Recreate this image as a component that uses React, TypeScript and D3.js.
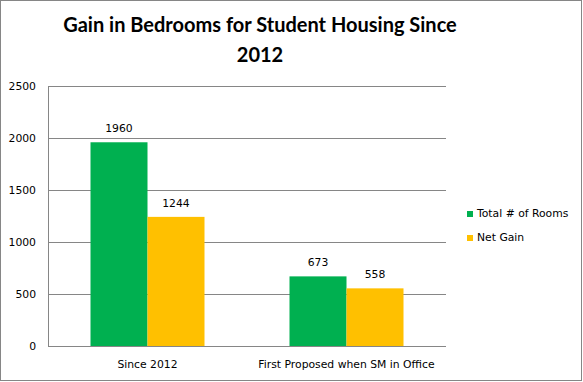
import React from "react";
import * as d3 from "d3";

const categories = ["Since 2012", "First Proposed when SM in Office"];
const seriesNames = ["Total # of Rooms", "Net Gain"];
const totalRooms = [1960, 673];
const netGain = [1244, 558];
const yTicks = [0, 500, 1000, 1500, 2000, 2500];
const colors = ["#00B050", "#FFC000"];

export default function App() {
  const W = 583, H = 382;
  const left = 48, right = 446, top = 86, bottom = 346.5;
  const x0 = d3.scaleBand<string>().domain(categories).range([left, right]);
  const y = d3.scaleLinear().domain([0, 2500]).range([bottom, top]);
  const series = [totalRooms, netGain];
  const lbl = "'DejaVu Sans', Verdana, sans-serif";
  const fs = 10.8;
  const groupW = x0.bandwidth() * (114 / 199);
  const barW = groupW / 2;
  return (
    <svg width={W} height={H} style={{ position: "absolute", left: 0, top: 0 }}>
      <rect x={0.5} y={0.5} width={581} height={380} fill="#fff" stroke="#868686" />
      <text x={260} y={32} textAnchor="middle" fontFamily="Lato, sans-serif" fontWeight="bold" fontSize={20} fill="#000">
        Gain in Bedrooms for Student Housing Since
      </text>
      <text x={260} y={62} textAnchor="middle" fontFamily="Lato, sans-serif" fontWeight="bold" fontSize={20} fill="#000">
        2012
      </text>
      {yTicks.map((t) => (
        <g key={t}>
          {t > 0 && <line x1={left} x2={right} y1={Math.round(y(t)) + 0.5} y2={Math.round(y(t)) + 0.5} stroke="#868686" />}
          <text x={36} y={y(t)} dy="0.35em" textAnchor="end" fontFamily={lbl} fontSize={fs} fill="#000">{t}</text>
        </g>
      ))}
      <line x1={left + 0.5} x2={left + 0.5} y1={top} y2={bottom} stroke="#868686" />
      {categories.map((c, ci) => {
        const cx = (x0(c) as number) + x0.bandwidth() / 2;
        return (
          <g key={c}>
            {series.map((s, si) => {
              const bx = cx - groupW / 2 + si * barW;
              return (
                <g key={si}>
                  <rect x={bx} y={y(s[ci])} width={barW} height={y(0) - y(s[ci])} fill={colors[si]} />
                  <text x={bx + barW / 2} y={y(s[ci]) - 10} textAnchor="middle" fontFamily={lbl} fontSize={fs} fill="#000">{s[ci]}</text>
                </g>
              );
            })}
            <text x={cx} y={368} textAnchor="middle" fontFamily={lbl} fontSize={fs} fill="#000">{c}</text>
          </g>
        );
      })}
      <line x1={left} x2={right} y1={346.5} y2={346.5} stroke="#868686" />
      {seriesNames.map((n, i) => (
        <g key={n}>
          <rect x={467} y={211 + i * 24} width={6} height={6} fill={colors[i]} />
          <text x={477} y={217 + i * 24} fontFamily={lbl} fontSize={fs} fill="#000">{n}</text>
        </g>
      ))}
    </svg>
  );
}
